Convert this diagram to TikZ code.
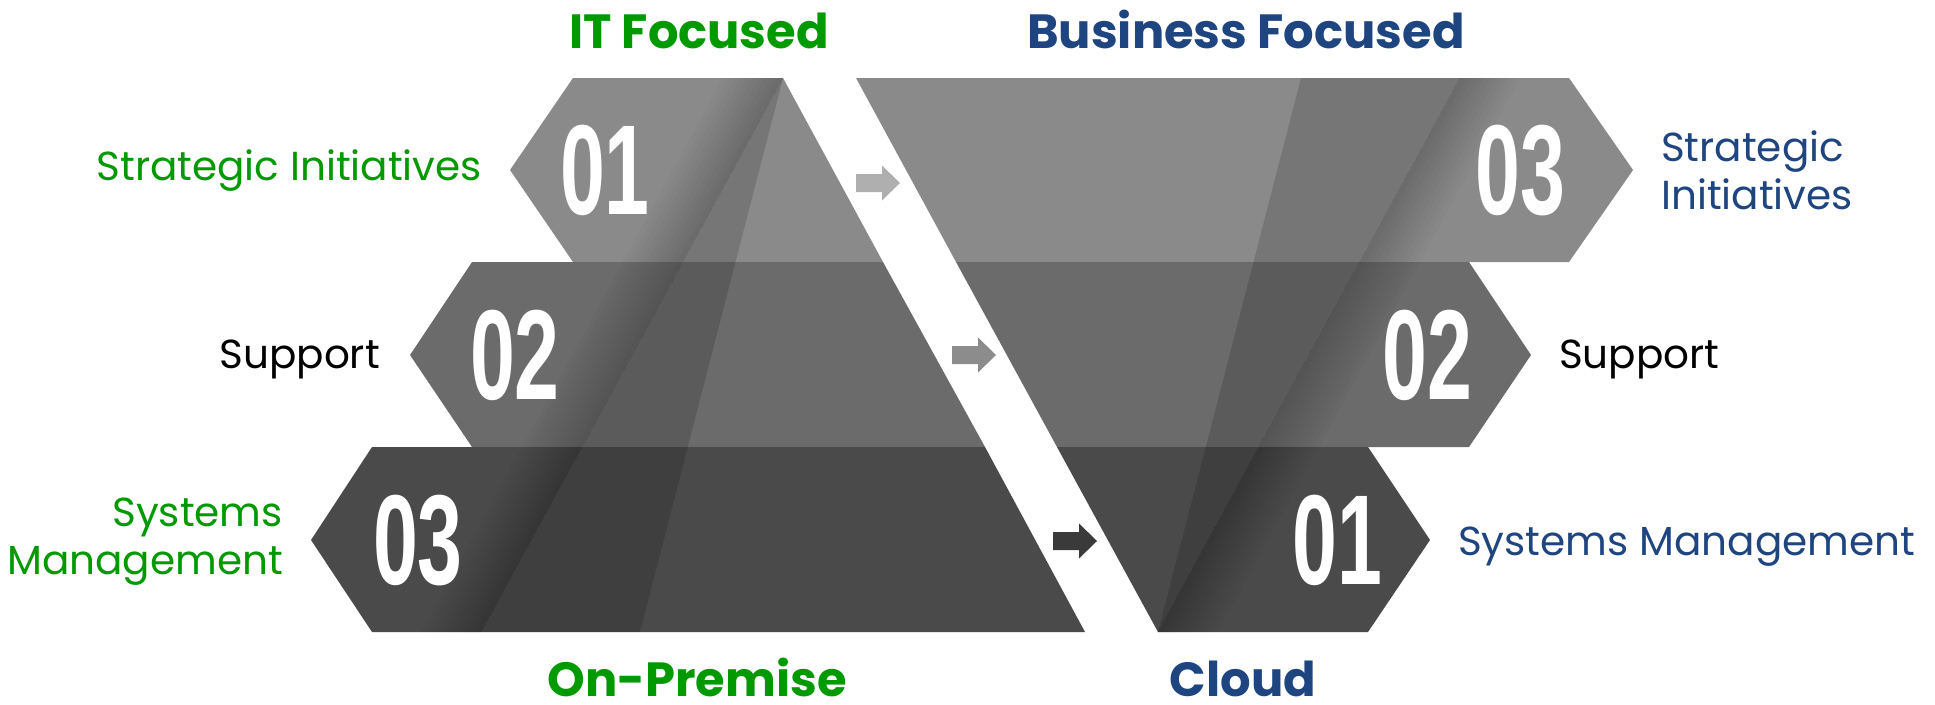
\documentclass[tikz,border=0pt]{standalone}
\usepackage{fontspec}
\setmainfont{Poppins}
\newfontfamily\numfont{Liberation Sans}
\usetikzlibrary{positioning}

\definecolor{itgreen}{RGB}{0,153,0}
\definecolor{bizblue}{RGB}{31,69,128}
\definecolor{rowa}{RGB}{138,138,138}
\definecolor{rowb}{RGB}{107,107,107}
\definecolor{rowc}{RGB}{74,74,74}

\tikzset{
  head/.style={font=\fontsize{48}{56}\selectfont\bfseries, inner sep=0pt},
  lbl/.style={font=\fontsize{40.5}{48}\selectfont, inner sep=0pt},
  num/.style={font=\numfont\bfseries\fontsize{128}{130}\selectfont, text=white, inner sep=0pt},
}
\newcommand{\twodigits}[1]{\scalebox{0.63}[1]{#1}}

\begin{document}
\begin{tikzpicture}[x=1pt,y=-1pt]
  \useasboundingbox (0,0) rectangle (1935,704);

  % left ribbons (On-Premise)
  \fill[rowa] (510,170) -- (573,78) -- (783,78) -- (883,262) -- (573,262) -- cycle;
  \fill[rowb] (410,355) -- (472,262) -- (883,262) -- (985,447) -- (472,447) -- cycle;
  \fill[rowc] (311,540) -- (372,447) -- (985,447) -- (1085,632) -- (372,632) -- cycle;

  % right ribbons (Cloud)
  \fill[rowa] (856,78) -- (1569,78) -- (1633,170) -- (1569,262) -- (956,262) -- cycle;
  \fill[rowb] (956,262) -- (1469,262) -- (1531,355) -- (1469,447) -- (1057,447) -- cycle;
  \fill[rowc] (1057,447) -- (1368,447) -- (1430,540) -- (1368,632) -- (1158,632) -- cycle;

  % folds
  \fill[black, fill opacity=0.14] (783,78) -- (481,632) -- (640,632) -- cycle;
  \fill[black, fill opacity=0.14] (1158,632) -- (1460,78) -- (1301,78) -- cycle;
  \foreach \d in {6,12,...,60} {
    \fill[black, fill opacity=0.018] (783,78) -- (481,632) -- (481-\d,632) -- (783-\d,78) -- cycle;
    \fill[black, fill opacity=0.018] (1460,78) -- (1158,632) -- (1158+\d,632) -- (1460+\d,78) -- cycle;
  }

  % arrows in the gap
  \foreach \cx/\cy/\shade in {878/183/175, 974/355/140, 1075/541/58} {
    \definecolor{arrowgray}{RGB}{\shade,\shade,\shade}
    \fill[arrowgray] (\cx-22,\cy-9) -- (\cx+4,\cy-9) -- (\cx+4,\cy-17.5) -- (\cx+22,\cy)
      -- (\cx+4,\cy+17.5) -- (\cx+4,\cy+9) -- (\cx-22,\cy+9) -- cycle;
  }

  % numbers
  \node[num] (l1) at (605,170) {\twodigits{01}};
  \node[num] (l2) at (515,355) {\twodigits{02}};
  \node[num] (l3) at (418,541) {\twodigits{03}};
  \node[num] (r3) at (1520,171) {\twodigits{03}};
  \node[num] (r2) at (1427,355) {\twodigits{02}};
  \node[num] (r1) at (1337,540) {\twodigits{01}};

  % headings
  \node[head, text=itgreen, anchor=base] (itf) at (699,48) {IT Focused};
  \node[head, text=bizblue, anchor=base] (bizf) at (1246,48) {Business Focused};
  \node[head, text=itgreen, anchor=base] (onprem) at (697,696) {On-Premise};
  \node[head, text=bizblue, anchor=base] (cloud) at (1243,696) {Cloud};

  % labels
  \node[lbl, text=itgreen, anchor=base east] (lsi) at (482,180) {Strategic Initiatives};
  \node[lbl, anchor=base east] (lsup) at (380,368) {Support};
  \node[lbl, text=itgreen, anchor=east, align=right] (lsm) at (283,542) {Systems\\Management};
  \node[lbl, text=bizblue, anchor=west, align=left] (rsi) at (1661,170) {Strategic\\Initiatives};
  \node[lbl, anchor=base west] (rsup) at (1559,368) {Support};
  \node[lbl, text=bizblue, anchor=base west] (rsm) at (1458,555) {Systems Management};
\end{tikzpicture}
\end{document}
